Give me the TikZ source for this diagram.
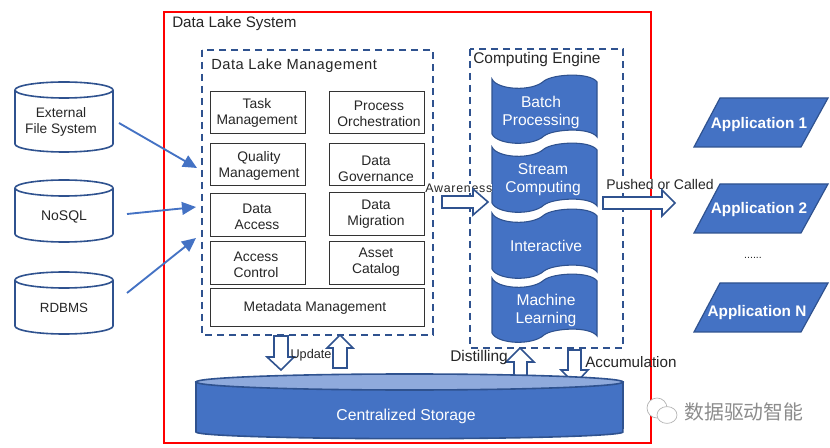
\documentclass[tikz,border=0pt]{standalone}
\usepackage{fontspec}
\setmainfont{Liberation Sans}
\newfontfamily\cjk{Noto Sans CJK SC}
\usetikzlibrary{arrows.meta}
\definecolor{bluef}{HTML}{4472C4}
\definecolor{blued}{HTML}{2F528F}
\definecolor{bluel}{HTML}{8FAADC}
\tikzset{
  x=0.75pt,y=-0.75pt,
  every node/.append style={yshift=-1.5pt},
  lab/.style={inner sep=0pt,font=\fontsize{11.6}{12.5}\selectfont,align=center,text=black!85},
  wlab/.style={inner sep=0pt,font=\fontsize{11.7}{13.5}\selectfont,align=center,text=white},
  mbox/.style={draw=black!80,line width=.7pt,fill=white},
  mtext/.style={inner sep=0pt,font=\fontsize{10.4}{11.9}\selectfont,align=center,text=black!85},
  dashbox/.style={draw=blued,line width=1.3pt,dash pattern=on 5.5pt off 3.5pt},
  cyl/.style={draw=blued,line width=1.2pt,fill=white},
  tape/.style={draw=blued,line width=.8pt,fill=bluef},
  conn/.style={draw=bluef,line width=1.4pt,-{Triangle[length=10.5pt,width=9.5pt]}},
  block/.style={draw=blued,line width=1.2pt,fill=white},
  app/.style={draw=blued,line width=.9pt,fill=bluef},
  applab/.style={inner sep=0pt,font=\fontsize{11.5}{13}\selectfont\bfseries,text=white},
}
\newcommand{\cylshape}[4]{%
  \path[cyl] (#1,#3+8) arc[x radius={(#2-#1)/2*0.75pt},y radius=6pt,start angle=180,end angle=0]
     -- (#2,#4-8) arc[x radius={(#2-#1)/2*0.75pt},y radius=6pt,start angle=0,end angle=-180] -- cycle;
  \path[cyl] (#1,#3+8) arc[x radius={(#2-#1)/2*0.75pt},y radius=6pt,start angle=180,end angle=360];
}
\newcommand{\tapeshape}[2]{%
  \path[tape] (492,#1+3) .. controls (497,#1+14) and (532,#1+16) .. (544,#1+5)
    .. controls (553,#1-2) and (590,#1-4) .. (597,#1+6)
    -- (597,#2+6) .. controls (590,#2-4) and (553,#2-2) .. (544,#2+5)
    .. controls (532,#2+16) and (497,#2+14) .. (492,#2+3) -- cycle;
}
\newcommand{\rarrow}[6]{\path[block] (#1,#2-#5) -- (#3-#6,#2-#5) -- (#3-#6,#2-#4) -- (#3,#2) -- (#3-#6,#2+#4) -- (#3-#6,#2+#5) -- (#1,#2+#5) -- cycle;}
\begin{document}
\begin{tikzpicture}
\useasboundingbox (0,0) rectangle (830,448);
\fill[white] (0,0) rectangle (830,448);
% frame
\draw[red,line width=1.6pt] (164,12) rectangle (651,443);
\node[lab,anchor=west,font=\fontsize{11.4}{12}\selectfont] (title) at (172,22) {Data Lake System};
% sources
\cylshape{15}{113}{82}{152}
\cylshape{15}{113}{180}{242}
\cylshape{15}{113}{272}{334}
\node[lab,font=\fontsize{10.3}{12}\selectfont] (ext) at (61,120) {External\\File System};
\node[lab,font=\fontsize{10.5}{12}\selectfont] (nosql) at (64,215) {NoSQL};
\node[lab,font=\fontsize{10}{12}\selectfont] (rdb) at (64,306) {RDBMS};
\coordinate (e1) at (119,121);
\coordinate (e2) at (127,212);
\coordinate (e3) at (127,291);
\coordinate (t1) at (197,166);
\coordinate (t2) at (196,205);
\coordinate (t3) at (196,236);
% management
\draw[dashbox] (202,50) rectangle (433,335);
\node[lab,anchor=west,font=\fontsize{11}{12}\selectfont\addfontfeature{LetterSpace=3.7}] (mgmt) at (211,64) {Data Lake Management};
\foreach \n/\t/\xa/\ya/\xb/\yb/\cx/\cy in {
 a/{Task\\Management}/210/91/305/133/257/111,
 b/{Process\\Orchestration}/329/91/424/133/379/112,
 c/{Quality\\Management}/210/143/305/185/259/164,
 d/{Data\\Governance}/329/143/424/185/376/167,
 e/{Data\\Access}/210/193/305/236/257/215,
 f/{Data\\Migration}/329/192/424/235/376/212,
 g/{Access\\Control}/210/241/305/284/256/263,
 h/{Asset\\Catalog}/329/241/424/284/376/260,
 i/{Metadata Management}/210/288/424/326/315/306}{
  \draw[mbox] (\xa,\ya) rectangle (\xb,\yb);
  \node[mtext] (\n) at (\cx,\cy) {\t};
}
\draw[conn] (e1) -- (t1);
\draw[conn] (e2) -- (t2);
\draw[conn] (e3) -- (t3);
% compute
\draw[dashbox] (470,49) rectangle (623,348);
\node[lab,anchor=west] (ce) at (473,58) {Computing Engine};
\tapeshape{76}{131}
\tapeshape{144}{200}
\tapeshape{210}{266}
\tapeshape{275}{330}
\node[wlab] (bp) at (541,110) {Batch\\Processing};
\node[wlab] (sc) at (543,178) {Stream\\Computing};
\node[wlab] (ia) at (546,244) {Interactive};
\node[wlab] (ml) at (546,308) {Machine\\Learning};
% labels that mask the lines behind them
\node[lab,fill=white,font=\fontsize{9.3}{11}\selectfont\addfontfeature{LetterSpace=6},anchor=west] (aw) at (425,186) {Awareness};
\node[lab,fill=white,font=\fontsize{10.5}{11}\selectfont,anchor=west] (pc) at (606,182) {Pushed or Called};
% block arrows
\rarrow{442}{202}{488}{13}{6}{15}
\rarrow{603}{203}{675}{13}{6}{13}
\path[block] (274,336) -- (288,336) -- (288,357) -- (294,357) -- (281,370) -- (267,357) -- (274,357) -- cycle;
\path[block] (333,368) -- (347,368) -- (347,348) -- (353,348) -- (340,335) -- (327,348) -- (333,348) -- cycle;
\path[block] (514,377) -- (527,377) -- (527,362) -- (534,362) -- (520,348) -- (506,362) -- (514,362) -- cycle;
\path[block] (568,350) -- (581,350) -- (581,370) -- (588,370) -- (575,384) -- (561,370) -- (568,370) -- cycle;
% storage
\path[draw=blued,line width=1.2pt,fill=bluef] (196,382) -- (196,432) arc[x radius=160.1pt,y radius=5pt,start angle=180,end angle=360] -- (623,382) -- cycle;
\path[draw=blued,line width=1.2pt,fill=bluel] (409.5,382) ellipse[x radius=160.1pt,y radius=6pt];
\node[wlab,font=\fontsize{11.8}{13}\selectfont] (cs) at (406,414) {Centralized Storage};
\node[lab,font=\fontsize{9.5}{11}\selectfont] (up) at (311,353) {Update};
\node[lab,anchor=west] (di) at (450,356) {Distilling};
\node[lab,anchor=west,font=\fontsize{11.4}{12}\selectfont] (ac) at (585,360) {Accumulation};
% apps
\foreach \n/\t/\yt/\yb/\cx/\cy in {p/{Application 1}/98/147/759/123, q/{Application 2}/184/233/759/208, r/{Application N}/283/332/757/311}{
  \path[app] (720,\yt) -- (828,\yt) -- (801,\yb) -- (694,\yb) -- cycle;
  \node[applab] (\n) at (\cx,\cy) {\t};
}
\node[lab,font=\fontsize{8}{9}\selectfont] (dots) at (753,256) {......};
% watermark
\draw[black!30,line width=.5pt,fill=white] (657,408) ellipse[x radius=7.5pt,y radius=7.5pt];
\draw[black!30,line width=.5pt,fill=white] (667,415) ellipse[x radius=7.5pt,y radius=6.3pt];
\node[inner sep=0pt,anchor=west,font=\cjk\fontsize{14.9}{16}\selectfont,text=black!45] (wm) at (684,410) {数据驱动智能};
\end{tikzpicture}
\end{document}
